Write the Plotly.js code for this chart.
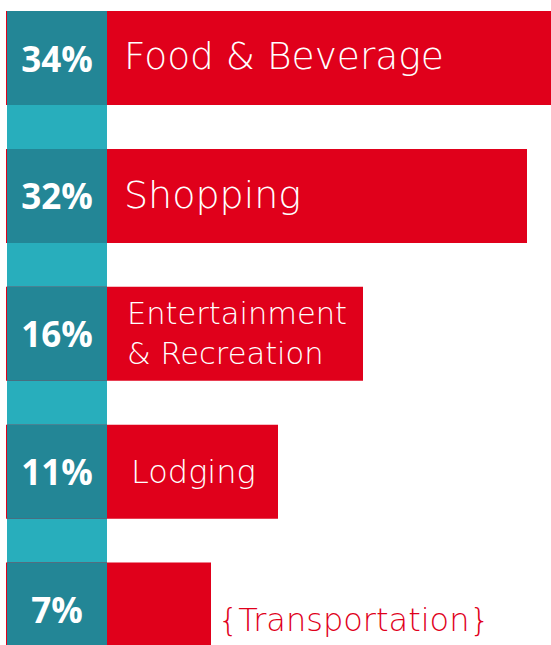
<!DOCTYPE html>
<html>
<head>
<meta charset="utf-8">
<script src="https://cdn.plot.ly/plotly-3.0.1.min.js"></script>
<style>html,body{margin:0;padding:0;background:#fff;}#chart{width:551px;height:645px;}</style>
</head>
<body>
<div id="chart"></div>
<script>
// ---- data ----
var categories = ["Food & Beverage", "Shopping", "Entertainment<br>& Recreation", "Lodging", "{Transportation}"];
var pctValues = [34, 32, 16, 11, 7];
var pctLabels = ["34%", "32%", "16%", "11%", "7%"];
// drawn bar lengths (the infographic does not draw bars to scale)
var barLength = [545, 521, 357, 272, 205];
var labelBoxWidth = 100;

// ---- styles ----
var RED = "#E0001B", DARK_TEAL = "#238696", LIGHT_TEAL = "#28AEBC";
var LABEL_FONT = "DejaVu Sans, sans-serif";
var PCT_FONT = "Open Sans, sans-serif";
var labelSizes = [37.5, 38, 30.5, 32, 32];
var labelShift = [15, 15, 18, 22, 5];
var labelYShift = [2, 1, 0, 0, -10];
var idx = categories.map(function (_, i) { return i; });

var redBars = {
  type: "bar", orientation: "h", y: idx, x: barLength, base: 0,
  width: 0.682, marker: { color: RED, line: { width: 0 } },
  hoverinfo: "skip", showlegend: false
};
var pctBars = {
  type: "bar", orientation: "h", y: idx,
  x: idx.map(function () { return labelBoxWidth; }), base: 1,
  width: 0.682, marker: { color: DARK_TEAL, line: { width: 0 } },
  text: pctLabels, textposition: "inside", insidetextanchor: "middle",
  textangle: 0, constraintext: "none",
  textfont: { family: PCT_FONT, size: 35, color: "#ffffff", weight: 700 },
  hoverinfo: "skip", showlegend: false
};

var annotations = categories.map(function (c, i) {
  var last = i === categories.length - 1;
  return {
    x: last ? barLength[i] : 1 + labelBoxWidth,
    y: i, xref: "x", yref: "y",
    text: c, showarrow: false, xanchor: "left", yanchor: "middle",
    align: "left",
    xshift: labelShift[i],
    yshift: labelYShift[i],
    font: { family: LABEL_FONT, size: labelSizes[i], color: last ? RED : "#ffffff", weight: 200 }
  };
});

var layout = {
  width: 551, height: 645,
  margin: { l: 6, r: 0, t: 0, b: 0, pad: 0 },
  paper_bgcolor: "#ffffff", plot_bgcolor: "#ffffff",
  barmode: "overlay",
  xaxis: { range: [0, 545], visible: false, fixedrange: true },
  yaxis: { range: [4.2567, -0.4206], visible: false, fixedrange: true },
  shapes: [{
    type: "rect", xref: "x", yref: "y", layer: "below",
    x0: 1, x1: 1 + labelBoxWidth, y0: -0.341, y1: 5,
    fillcolor: LIGHT_TEAL, line: { width: 0 }
  }],
  annotations: annotations
};

Plotly.newPlot("chart", [redBars, pctBars], layout, { displayModeBar: false, staticPlot: true });
</script>
</body>
</html>
